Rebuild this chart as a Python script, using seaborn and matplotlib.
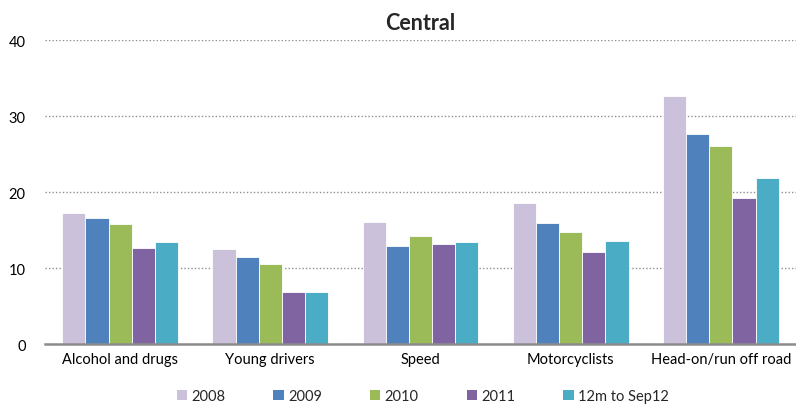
import pandas as pd
import seaborn as sns
import matplotlib.pyplot as plt
from matplotlib.patches import Patch

# Data
categories = ["Alcohol and drugs", "Young drivers", "Speed", "Motorcyclists",
              "Head-on/run off road"]
series = ["2008", "2009", "2010", "2011", "12m to Sep12"]
v_2008 = [17.2, 12.5, 16.0, 18.5, 32.6]
v_2009 = [16.6, 11.5, 12.9, 15.9, 27.7]
v_2010 = [15.8, 10.5, 14.2, 14.7, 26.0]
v_2011 = [12.6, 6.9, 13.2, 12.1, 19.2]
v_12m = [13.4, 6.8, 13.4, 13.5, 21.9]
colors = ["#CCC1DA", "#4F81BD", "#9BBB59", "#8064A2", "#4BACC6"]

rows = []
for name, vals in zip(series, [v_2008, v_2009, v_2010, v_2011, v_12m]):
    for cat, v in zip(categories, vals):
        rows.append({"category": cat, "series": name, "value": v})
df = pd.DataFrame(rows)

sns.set_theme(style="white")
plt.rcParams["font.family"] = ["Lato", "DejaVu Sans"]

fig = plt.figure(figsize=(7.96, 4.06), dpi=100)
ax = fig.add_axes([0.0565, 0.150, 0.9435, 0.749])

sns.barplot(data=df, x="category", y="value", hue="series", order=categories,
            hue_order=series, palette=colors, width=0.77, saturation=1,
            edgecolor="white", linewidth=0.6, ax=ax, legend=False)

ax.set_xlim(-0.5, 4.5)
ax.set_ylim(0, 40)
ax.set_yticks([0, 10, 20, 30, 40])
ax.yaxis.grid(True, color="#909090", linestyle=(0, (1, 1.5)), linewidth=1.0)
ax.set_axisbelow(True)
for s in ["top", "right", "left"]:
    ax.spines[s].set_visible(False)
ax.spines["bottom"].set_color("#8c8c8c")
ax.spines["bottom"].set_linewidth(1.8)
ax.tick_params(axis="both", length=0, labelsize=10.5, colors="black")
ax.tick_params(axis="y", pad=14)
ax.tick_params(axis="x", pad=6)
ax.set_xlabel("")
ax.set_ylabel("")
ax.set_title("Central", fontsize=15.5, fontweight="bold", pad=8)

handles = [Patch(facecolor=c, edgecolor="none", label=s)
           for c, s in zip(colors, series)]
ax.legend(handles=handles, loc="center", bbox_to_anchor=(0.503, -0.17),
          ncol=5, frameon=False, fontsize=10.5, handlelength=0.7,
          handleheight=0.7, handletextpad=0.3, columnspacing=3.3)

fig.savefig("out.png", dpi=100)
